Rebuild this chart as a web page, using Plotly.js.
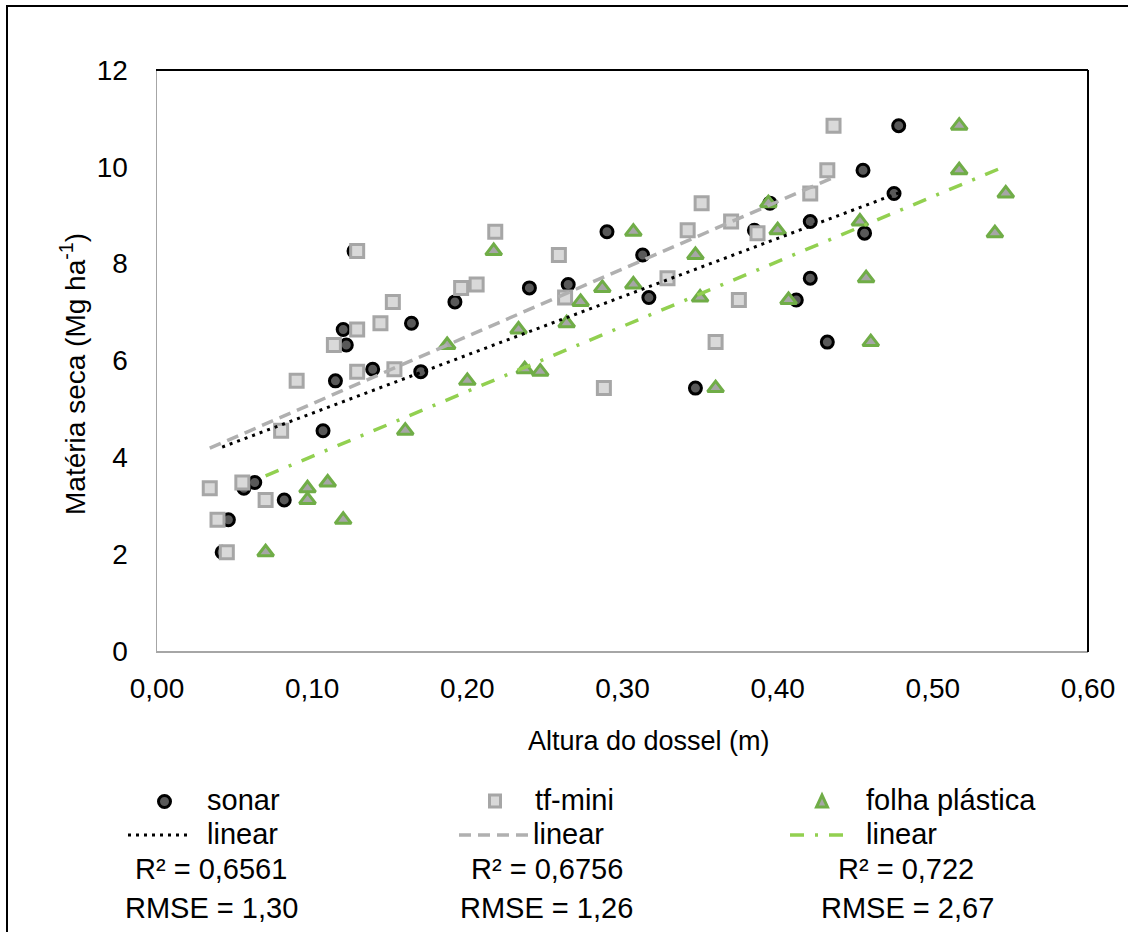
<!DOCTYPE html>
<html>
<head>
<meta charset="utf-8">
<script src="https://cdn.plot.ly/plotly-3.0.1.min.js"></script>
<style>html,body{margin:0;padding:0;background:#fff;}#chart{width:1128px;height:932px;}</style>
</head>
<body>
<div id="chart"></div>
<script>
// ---- data ----
const seriesNames = ["sonar", "tf-mini", "folha plástica"];
const sonarX = [0.042,0.046,0.056,0.063,0.082,0.107,0.115,0.120,0.122,0.127,0.139,0.164,0.170,0.192,0.240,0.265,0.290,0.313,0.317,0.347,0.385,0.395,0.412,0.421,0.421,0.432,0.455,0.456,0.475,0.478];
const sonarY = [2.04,2.71,3.36,3.48,3.12,4.55,5.58,6.64,6.32,8.26,5.82,6.77,5.77,7.21,7.50,7.57,8.66,8.18,7.30,5.43,8.69,9.25,7.25,8.87,7.70,6.38,9.93,8.63,9.45,10.85];
const tfX = [0.034,0.039,0.045,0.055,0.070,0.080,0.090,0.114,0.129,0.129,0.129,0.144,0.152,0.153,0.196,0.206,0.218,0.259,0.263,0.288,0.329,0.342,0.351,0.360,0.370,0.375,0.387,0.421,0.432,0.436];
const tfY = [3.36,2.71,2.04,3.48,3.12,4.55,5.58,6.32,8.26,6.64,5.77,6.77,7.21,5.82,7.50,7.57,8.66,8.18,7.30,5.43,7.70,8.69,9.25,6.38,8.87,7.25,8.63,9.45,9.93,10.85];
const folhaX = [0.070,0.097,0.097,0.110,0.120,0.160,0.187,0.200,0.217,0.233,0.237,0.247,0.264,0.273,0.287,0.307,0.307,0.347,0.350,0.360,0.394,0.400,0.407,0.453,0.457,0.460,0.517,0.517,0.540,0.547];
const folhaY = [2.04,3.36,3.12,3.48,2.71,4.55,6.32,5.58,8.26,6.64,5.82,5.77,6.77,7.21,7.50,8.66,7.57,8.18,7.30,5.43,9.25,8.69,7.25,8.87,7.70,6.38,10.85,9.93,8.63,9.45];
const r2Labels = ["R² = 0,6561", "R² = 0,6756", "R² = 0,722"];
const rmseLabels = ["RMSE = 1,30", "RMSE = 1,26", "RMSE = 2,67"];
const trendLabel = "linear";
const xTitle = "Altura do dossel (m)";
const yTitle = "Matéria seca (Mg ha<sup>-1</sup>)";

// ---- helpers ----
const W = 1128, H = 932;
const px = x => x / W;
const py = y => 1 - y / H;
function fit(xs, ys) {
  const n = xs.length;
  const mx = xs.reduce((a, b) => a + b, 0) / n;
  const my = ys.reduce((a, b) => a + b, 0) / n;
  let sxy = 0, sxx = 0;
  for (let i = 0; i < n; i++) { sxy += (xs[i] - mx) * (ys[i] - my); sxx += (xs[i] - mx) ** 2; }
  const b = sxy / sxx, a = my - b * mx;
  const x0 = Math.min(...xs), x1 = Math.max(...xs);
  return { x: [x0, x1], y: [a + b * x0, a + b * x1] };
}
const FONT = "Liberation Sans, Arial, sans-serif";

const dotDash = "3px,5px";
const dashDash = "12px,7px";
const dashDot = "14px,11px,3px,11px";

const fs = fit(sonarX, sonarY), ft = fit(tfX, tfY), ff = fit(folhaX, folhaY);

const traces = [
  { x: sonarX, y: sonarY, type: "scatter", mode: "markers", name: seriesNames[0],
    marker: { symbol: "circle", size: 12, color: "#595959", line: { color: "#000000", width: 3 } } },
  { x: tfX, y: tfY, type: "scatter", mode: "markers", name: seriesNames[1],
    marker: { symbol: "square", size: 13, color: "#d9d9d9", line: { color: "#a6a6a6", width: 3 } } },
  { x: folhaX, y: folhaY, type: "scatter", mode: "markers", name: seriesNames[2],
    marker: { symbol: "triangle-up", size: 14, color: "#a6a6a6", line: { color: "#70ad47", width: 3 } } },
  { x: fs.x, y: fs.y, type: "scatter", mode: "lines", name: trendLabel,
    line: { color: "#000000", width: 3, dash: dotDash } },
  { x: ft.x, y: ft.y, type: "scatter", mode: "lines", name: trendLabel,
    line: { color: "#b0b0b0", width: 3.5, dash: dashDash } },
  { x: ff.x, y: ff.y, type: "scatter", mode: "lines", name: trendLabel,
    line: { color: "#92d050", width: 3.5, dash: dashDot } }
];

const shapes = [
  // outer frame
  { type: "rect", xref: "paper", yref: "paper", x0: px(7), y0: py(6), x1: 1.2, y1: -0.2,
    line: { color: "#000000", width: 2 }, fillcolor: "rgba(0,0,0,0)", layer: "below" },
  // plot area top / right border
  { type: "line", xref: "paper", yref: "paper", x0: px(156), x1: px(1088), y0: py(70), y1: py(70), line: { color: "#000000", width: 2 } },
  { type: "line", xref: "paper", yref: "paper", x0: px(1088), x1: px(1088), y0: py(70), y1: py(652), line: { color: "#000000", width: 2 } },
  // legend glyphs
  { type: "circle", xref: "paper", yref: "paper", x0: px(158.5), x1: px(170.5), y0: py(807.5), y1: py(795.5),
    fillcolor: "#595959", line: { color: "#000000", width: 3 } },
  { type: "rect", xref: "paper", yref: "paper", x0: px(489.5), x1: px(500.5), y0: py(807), y1: py(795),
    fillcolor: "#d9d9d9", line: { color: "#a6a6a6", width: 3 } },
  { type: "path", xref: "paper", yref: "paper",
    path: `M ${px(816.5)} ${py(807)} L ${px(827.5)} ${py(807)} L ${px(822)} ${py(795)} Z`,
    fillcolor: "#a6a6a6", line: { color: "#70ad47", width: 3 } },
  { type: "line", xref: "paper", yref: "paper", x0: px(128), x1: px(192), y0: py(835), y1: py(835), line: { color: "#000000", width: 3, dash: dotDash } },
  { type: "line", xref: "paper", yref: "paper", x0: px(459), x1: px(529), y0: py(835), y1: py(835), line: { color: "#b0b0b0", width: 3.5, dash: dashDash } },
  { type: "line", xref: "paper", yref: "paper", x0: px(790), x1: px(848), y0: py(835), y1: py(835), line: { color: "#92d050", width: 3.5, dash: dashDot } }
];

function ann(text, x, y, xanchor, size, extra) {
  return Object.assign({ text: text, xref: "paper", yref: "paper", x: px(x), y: py(y), xanchor: xanchor, yanchor: "middle",
    showarrow: false, font: { family: FONT, size: size, color: "#000000" } }, extra || {});
}
const LS = 29;
const annotations = [
  ann(xTitle, 649, 741, "center", 27),
  ann(yTitle, 73, 374, "center", 28, { textangle: -90 }),
  ann(seriesNames[0], 205, 800, "left", LS),
  ann(seriesNames[1], 533, 800, "left", LS),
  ann(seriesNames[2], 864, 800, "left", LS),
  ann(trendLabel, 205, 834, "left", LS),
  ann(trendLabel, 531, 834, "left", LS),
  ann(trendLabel, 864, 834, "left", LS),
  ann(r2Labels[0], 211, 869, "center", LS),
  ann(r2Labels[1], 547, 869, "center", LS),
  ann(r2Labels[2], 906, 869, "center", LS),
  ann(rmseLabels[0], 211, 908, "center", LS),
  ann(rmseLabels[1], 546, 908, "center", LS),
  ann(rmseLabels[2], 907, 908, "center", LS)
];

const layout = {
  width: W, height: H,
  margin: { l: 0, r: 0, t: 0, b: 0 },
  paper_bgcolor: "#ffffff", plot_bgcolor: "#ffffff",
  showlegend: false,
  separators: ",.",
  font: { family: FONT, size: 28, color: "#000000" },
  xaxis: {
    domain: [px(157), px(1088)], range: [0, 0.6], dtick: 0.1, tick0: 0, tickformat: ".2f",
    showgrid: false, zeroline: false, showline: true, linecolor: "#a6a6a6", linewidth: 1.5,
    ticks: "", ticklabelstandoff: 12, automargin: false,
    tickfont: { family: FONT, size: 28, color: "#000000" }
  },
  yaxis: {
    domain: [py(651), py(70)], range: [0, 12], dtick: 2, tick0: 0,
    showgrid: false, zeroline: false, showline: true, linecolor: "#a6a6a6", linewidth: 1.5,
    ticks: "", ticklabelstandoff: 22, automargin: false,
    tickfont: { family: FONT, size: 28, color: "#000000" }
  },
  shapes: shapes,
  annotations: annotations
};

Plotly.newPlot("chart", traces, layout, { displayModeBar: false, staticPlot: true });
</script>
</body>
</html>
